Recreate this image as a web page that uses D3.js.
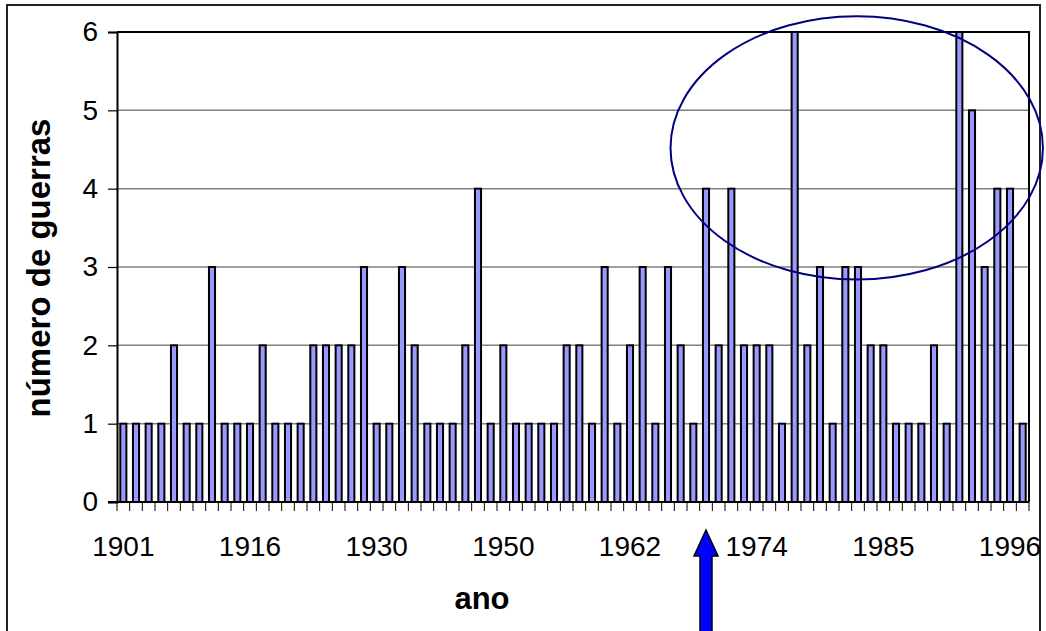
<!DOCTYPE html>
<html>
<head>
<meta charset="utf-8">
<script src="https://cdn.jsdelivr.net/npm/d3@7"></script>
<style>
  html, body { margin: 0; padding: 0; background: #fff; }
  svg { display: block; }
  text { font-family: "Liberation Sans", Arial, sans-serif; fill: #000; }
</style>
</head>
<body>
<svg id="chart" width="1046" height="631"></svg>
<script>
// ---- data ----
const warCounts = [1,1,1,1,2,1,1,3,1,1,1,2,1,1,1,2,2,2,2,3,1,1,3,2,1,1,1,2,4,1,2,1,1,1,1,2,2,1,3,1,2,3,1,3,2,1,4,2,4,2,2,2,1,6,2,3,1,3,3,2,2,1,1,1,2,1,6,5,3,4,4,1];
const tickLabels = ["1901","1916","1930","1950","1962","1974","1985","1996"];
const tickLabelBars = [0,10,20,30,40,50,60,70];
const yTicks = [0,1,2,3,4,5,6];
const xTitle = "ano";
const yTitle = "número de guerras";
const arrowBar = 46;

const svg = d3.select("#chart");
const plot = { left: 117, right: 1029, top: 32, bottom: 502 };

const x = d3.scaleBand()
  .domain(d3.range(warCounts.length))
  .range([plot.left, plot.right])
  .paddingInner(0.52)
  .paddingOuter(0.26);
const step = x.step();
const y = d3.scaleLinear().domain([0, 6]).range([plot.bottom, plot.top]);

// outer chart border
svg.append("rect")
  .attr("x", 7).attr("y", 5).attr("width", 1033).attr("height", 700)
  .attr("fill", "none").attr("stroke", "#222").attr("stroke-width", 2);

// gridlines
svg.append("g").selectAll("line")
  .data(yTicks.filter(d => d > 0 && d < 6))
  .join("line")
  .attr("x1", plot.left).attr("x2", plot.right)
  .attr("y1", d => y(d)).attr("y2", d => y(d))
  .attr("stroke", "#808080").attr("stroke-width", 1.5);

// plot border (top/right)
svg.append("path")
  .attr("d", `M${plot.left},${plot.top}H${plot.right}V${plot.bottom}`)
  .attr("fill", "none").attr("stroke", "#000").attr("stroke-width", 2);

// bars
svg.append("g").selectAll("rect")
  .data(warCounts)
  .join("rect")
  .attr("x", (d, i) => x(i))
  .attr("y", d => y(d))
  .attr("width", x.bandwidth())
  .attr("height", d => y(0) - y(d))
  .attr("fill", "#9999FF")
  .attr("stroke", "#000")
  .attr("stroke-width", 2);

// y axis
const yAxis = d3.axisLeft(y).tickValues(yTicks).tickSize(9).tickPadding(10).tickFormat(d3.format("d"));
const gy = svg.append("g").attr("transform", `translate(${plot.left},0)`).call(yAxis);
gy.select(".domain").attr("stroke", "#000").attr("stroke-width", 2);
gy.selectAll(".tick line").attr("stroke", "#000").attr("stroke-width", 1.2);
gy.selectAll(".tick text").attr("font-size", 28).attr("font-family", "Liberation Sans, Arial, sans-serif").attr("fill", "#000");

// x axis: tick marks at category boundaries
const boundaries = d3.range(warCounts.length + 1).map(i => plot.left + i * step);
svg.append("g").selectAll("line")
  .data(boundaries)
  .join("line")
  .attr("x1", d => d).attr("x2", d => d)
  .attr("y1", plot.bottom).attr("y2", plot.bottom + 9)
  .attr("stroke", "#000").attr("stroke-width", 1);
svg.append("line")
  .attr("x1", plot.left - 9).attr("x2", plot.right)
  .attr("y1", plot.bottom).attr("y2", plot.bottom)
  .attr("stroke", "#000").attr("stroke-width", 2);

svg.append("g").selectAll("text")
  .data(tickLabels)
  .join("text")
  .attr("x", (d, i) => x(tickLabelBars[i]) + x.bandwidth() / 2)
  .attr("y", 556)
  .attr("text-anchor", "middle")
  .attr("font-size", 28)
  .text(d => d);

// axis titles
svg.append("text")
  .attr("x", 482).attr("y", 609)
  .attr("text-anchor", "middle")
  .attr("font-size", 31).attr("font-weight", "bold")
  .text(xTitle);

svg.append("text")
  .attr("transform", "translate(50,268) rotate(-90)")
  .attr("text-anchor", "middle")
  .attr("font-size", 33).attr("font-weight", "bold")
  .text(yTitle);

// ellipse annotation
svg.append("ellipse")
  .attr("cx", plot.left + 58.4 * step)
  .attr("cy", y(4.52))
  .attr("rx", 14.7 * step)
  .attr("ry", y(0) - y(1.68))
  .attr("fill", "none")
  .attr("stroke", "#000080")
  .attr("stroke-width", 2);

// arrow annotation
const ax = x(arrowBar) + x.bandwidth() / 2;
const arrowPts = [
  [ax, 530], [ax + 12, 556], [ax + 6, 556], [ax + 6, 645],
  [ax - 6, 645], [ax - 6, 556], [ax - 12, 556]
];
svg.append("path")
  .attr("d", d3.line()(arrowPts) + "Z")
  .attr("fill", "#0000FF")
  .attr("stroke", "#000")
  .attr("stroke-width", 1.5);
</script>
</body>
</html>
